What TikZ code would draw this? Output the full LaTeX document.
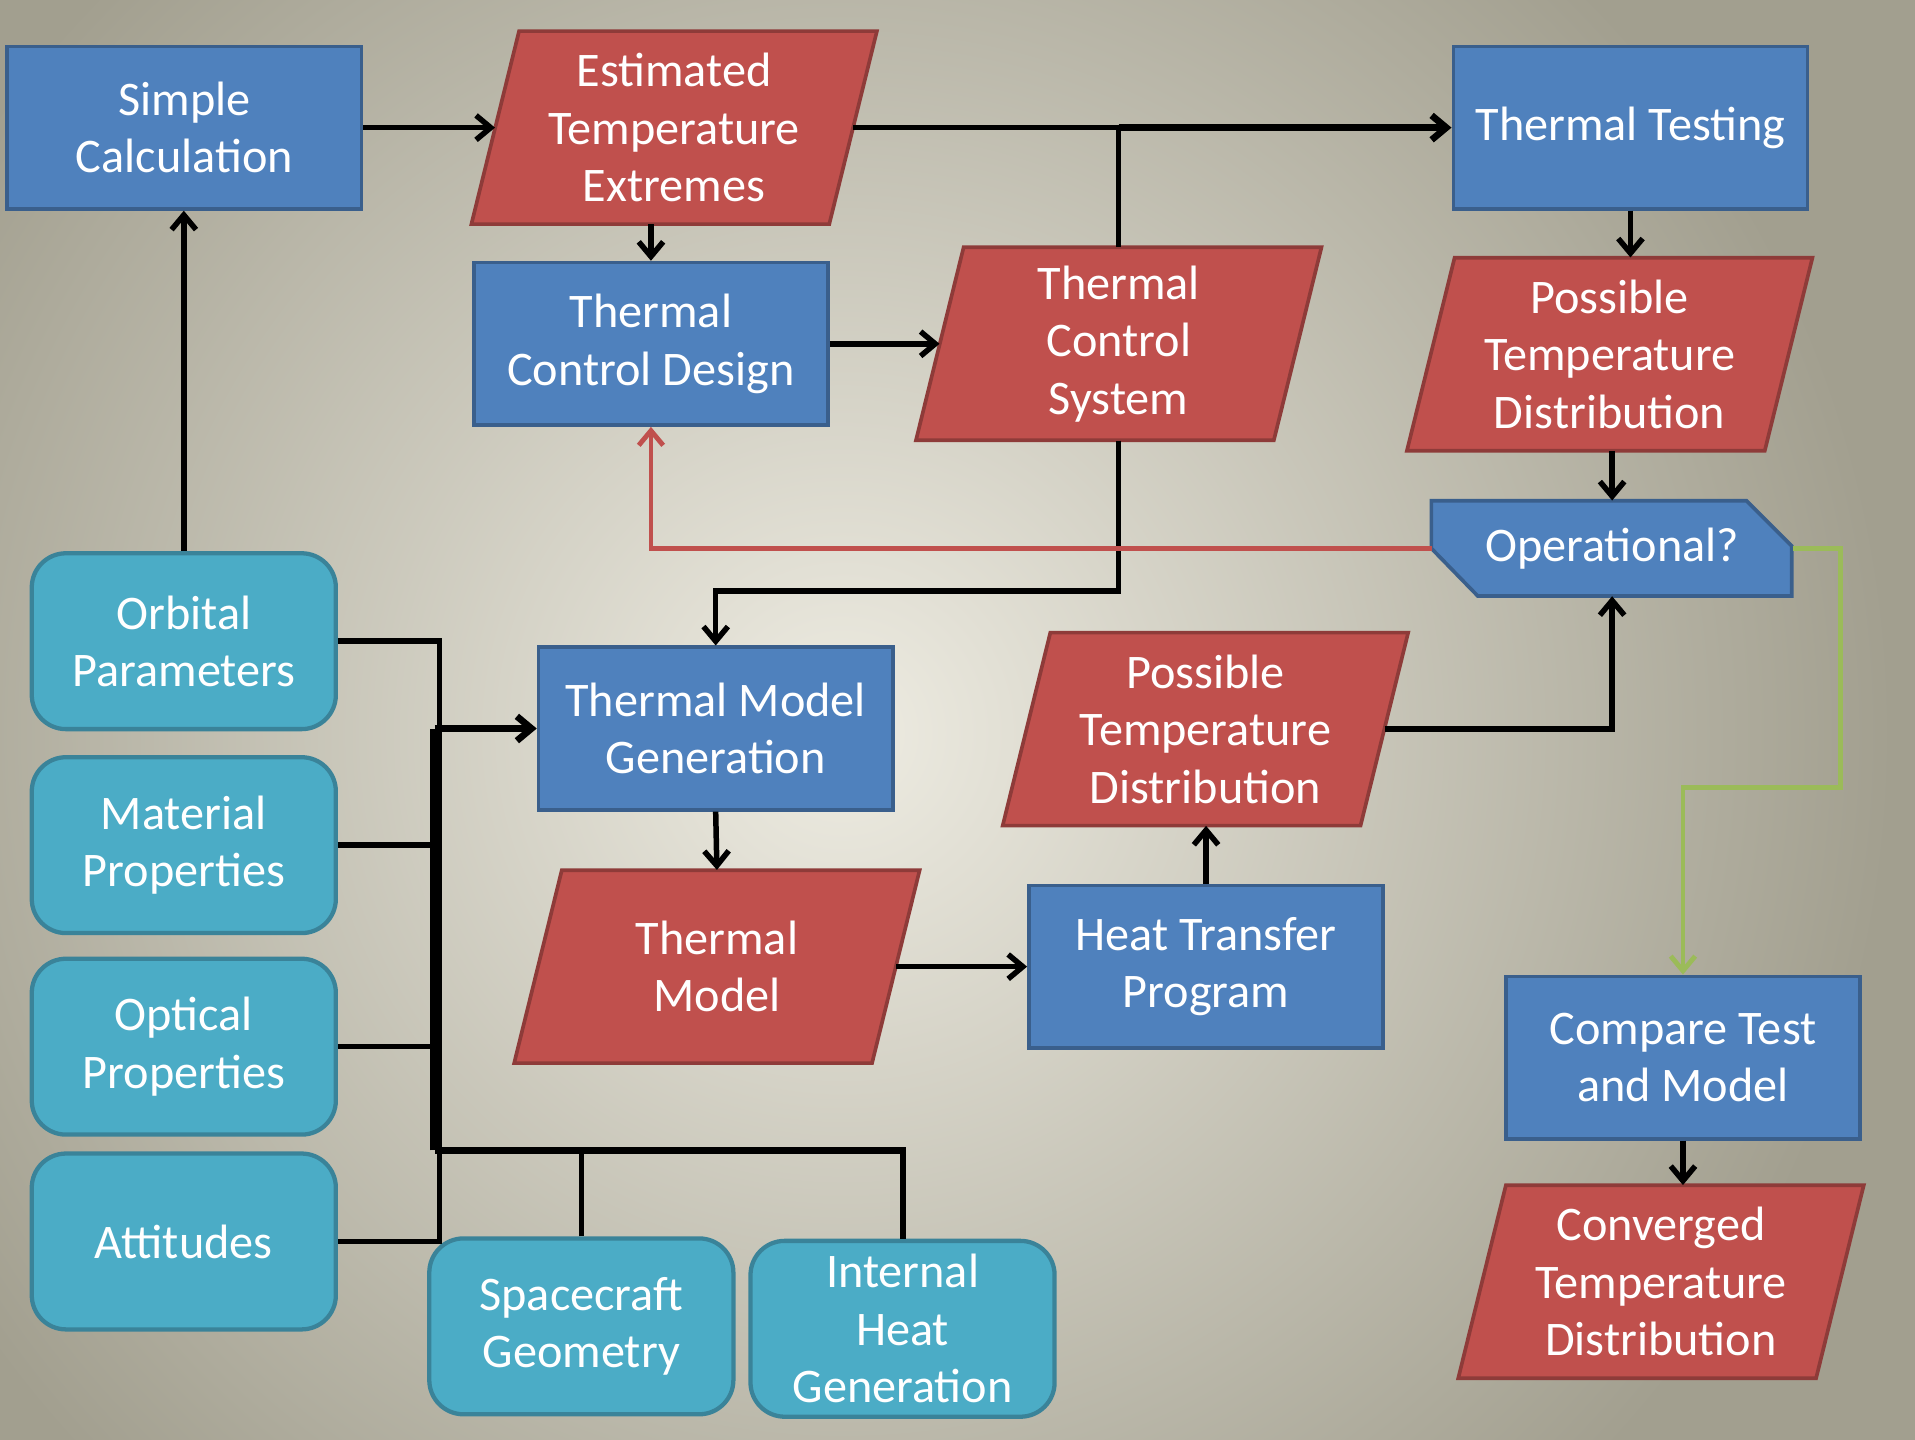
\documentclass[tikz,border=0pt]{standalone}
\usepackage{fontspec}
\setmainfont{Carlito}
\usetikzlibrary{arrows.meta}
\definecolor{bgout}{HTML}{A29F8F}
\definecolor{bgin}{HTML}{EEECE2}
\definecolor{blueF}{HTML}{4F81BD}
\definecolor{blueD}{HTML}{3A5F8C}
\definecolor{redF}{HTML}{C0504D}
\definecolor{redD}{HTML}{8E3B39}
\definecolor{cyanF}{HTML}{4BACC6}
\definecolor{cyanD}{HTML}{3A8399}
\definecolor{greenL}{HTML}{9BBB59}
\newcommand\redpara[4]{%
  \draw[redshape] (#2-127,#3-79) -- (#2+166,#3-79) -- (#2+127,#3+79) -- (#2-166,#3+79) -- cycle;
  \node[redtxt] (#1) at (#2,#3) {#4};}
\begin{document}
\begin{tikzpicture}[x=1pt,y=-1pt,
  >={Straight Barb[length=12pt,width=20pt]},
  txt/.style={text=white, align=center, font=\fontsize{39.5}{47}\selectfont, inner sep=0pt},
  bluebox/.style={txt, draw=blueD, fill=blueF, line width=3pt, minimum width=290pt, minimum height=133pt},
  cyanbox/.style={txt, draw=cyanD, fill=cyanF, line width=3.5pt, rounded corners=28pt, minimum width=249pt, minimum height=144pt},
  redtxt/.style={txt, minimum width=293pt, minimum height=158pt},
  redshape/.style={draw=redD, fill=redF, line width=3pt, line join=miter},
  conn/.style={draw=black, line width=4.5pt},
  busline/.style={draw=black, line width=8pt},
  redline/.style={draw=redF, line width=4pt},
  greenline/.style={draw=greenL, line width=4pt}]
% background
\fill[bgout] (0,0) rectangle (1568,1179);
\begin{scope}
  \clip (0,0) rectangle (1568,1179);
  \shade[inner color=bgin, outer color=bgout] (690,600) circle (860pt);
\end{scope}
\useasboundingbox (0,0) rectangle (1568,1179);

% blue boxes
\node[bluebox] (sc)  at (151,104.5) {Simple\\Calculation};
\node[bluebox] (tcd) at (533,281.5) {Thermal\\Control Design};
\node[bluebox] (tt)  at (1335,104.5) {Thermal Testing};
\node[bluebox] (tmg) at (586,596.5) {Thermal Model\\Generation};
\node[bluebox] (htp) at (987.5,791.5) {Heat Transfer\\Program};
\node[bluebox] (cmp) at (1378,866) {Compare Test\\and Model};

% red parallelograms
\redpara{ete}{552}{104.5}{Estimated\\Temperature\\Extremes}
\redpara{tcs}{916}{281.5}{Thermal\\Control\\System}
\redpara{ptda}{1318}{290}{Possible\\Temperature\\Distribution}
\redpara{ptdb}{987}{597}{Possible\\Temperature\\Distribution}
\redpara{tm}{587}{791.5}{Thermal\\Model}
\redpara{ctd}{1360}{1049.5}{Converged\\Temperature\\Distribution}

% decision
\draw[draw=blueD, fill=blueF, line width=3pt] (1172,410) -- (1430,410) -- (1467,447) -- (1467,488) -- (1210,488) -- (1172,449) -- cycle;
\node[txt, minimum width=295pt, minimum height=78pt] (op) at (1320,449) {Operational?};

% cyan inputs
\node[cyanbox] (orb) at (150.5,525) {Orbital\\Parameters};
\node[cyanbox] (mat) at (150.5,692) {Material\\Properties};
\node[cyanbox] (opt) at (150.5,857) {Optical\\Properties};
\node[cyanbox] (att) at (150.5,1016.5) {Attitudes};
\node[cyanbox] (sg)  at (476,1086) {Spacecraft\\Geometry};
\node[cyanbox] (ihg) at (739,1088) {Internal\\Heat\\Generation};

% connectors
\draw[conn,->] (sc.east) -- (ete.west);
\coordinate (ja) at (tcs.north |- ete.east);
\draw[conn] (ete.east) -- (ja);
\draw[conn] (tcs.north) -- (ja);
\draw[conn, line width=5.5pt, ->] (ja) -- (tt.west);
\draw[conn,->] (ete.south -| tcd.north) -- (tcd.north);
\draw[conn,->] (tcd.east) -- (tcs.west);
\draw[conn,->] (tcs.south) -- ++(0,123) -| (tmg.north);
\draw[redline,->] (op.west) -| (tcd.south);
\draw[conn,->] (tt.south) -- (tt.south |- ptda.north);
\draw[conn,->] (ptda.south -| op.north) -- (op.north);
\draw[greenline,->] (op.east) -- ++(39.5,0) -- ++(0,196) -| (cmp.north);
\draw[conn,->] (ptdb.east) -| (op.south);
\draw[conn,->] (htp.north) -- (htp.north |- ptdb.south);
\draw[conn,->] (tm.east) -- (htp.west);
\draw[conn,->] (tmg.south) -- (tm.north);
\draw[conn,->] (cmp.south) -- (cmp.south |- ctd.north);
\draw[conn,->] (orb.north) -- (orb.north |- sc.south);

% input bus
\draw[conn] (orb.east) -- ++(83,0) |- (att.east);
\draw[conn] (mat.east) -- ++(81,0);
\draw[conn] (opt.east) -- ++(81,0);
\coordinate (bb) at (356,942);
\draw[busline] (bb) -- (bb |- tmg.west);
\draw[conn, line width=5.5pt, ->] (bb |- tmg.west) -- (tmg.west);
\draw[conn, line width=5pt] (bb) -| (ihg.north);
\draw[conn] (sg.north) -- (sg.north |- bb);
\end{tikzpicture}
\end{document}
